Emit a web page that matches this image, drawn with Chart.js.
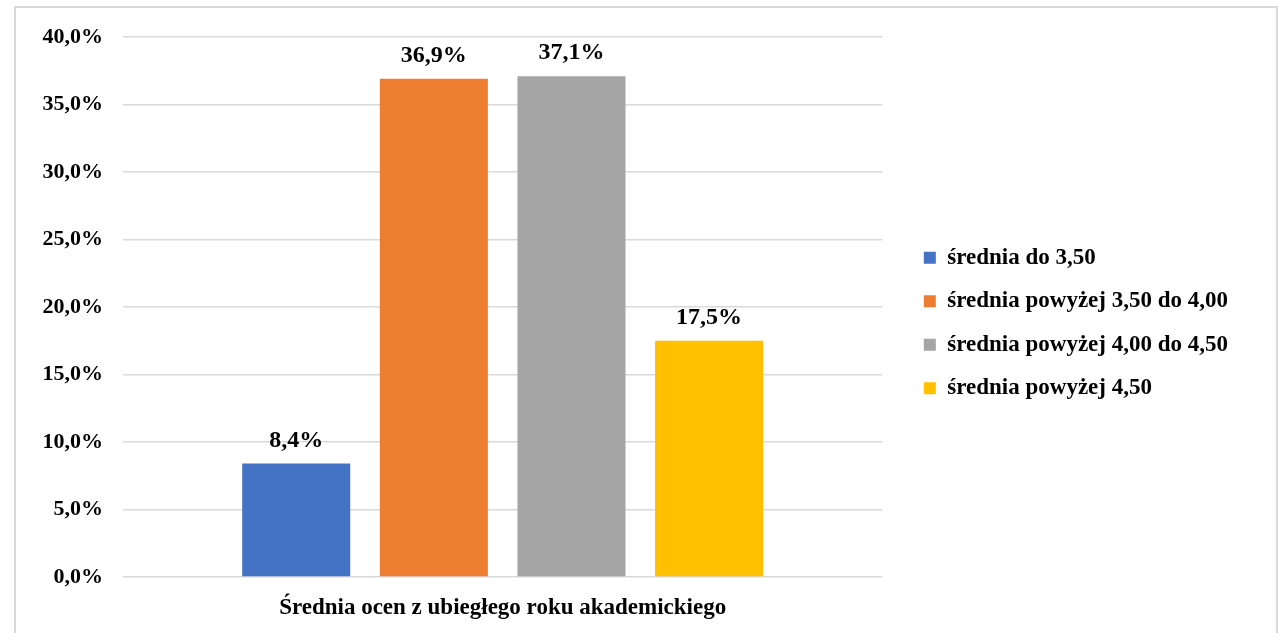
<!DOCTYPE html>
<html>
<head>
<meta charset="utf-8">
<script src="https://cdn.jsdelivr.net/npm/chart.js@4/dist/chart.umd.min.js"></script>
<style>
	body { margin: 0; background: #fff; }
	#wrap { position: relative; width: 1278px; height: 633px; overflow: hidden; }
	#frame { position: absolute; left: 14px; top: 6px; width: 1264px; height: 700px; box-sizing: border-box;
		border: 2px solid #d9d9d9; border-bottom: none; pointer-events: none; }
	#chart-area { position: absolute; left: 0; top: 0; }
</style>
</head>
<body>
<div id="wrap">
	<canvas id="chart-area" width="1278" height="633"></canvas>
	<div id="frame"></div>
</div>
<script>
	//data
	var categories = ["Średnia ocen z ubiegłego roku akademickiego"];
	var seriesNames = [
		"średnia do 3,50",
		"średnia powyżej 3,50 do 4,00",
		"średnia powyżej 4,00 do 4,50",
		"średnia powyżej 4,50"
	];
	var seriesValues = [8.4, 36.9, 37.1, 17.5];
	var seriesColors = ["#4472C4", "#ED7D31", "#A5A5A5", "#FFC000"];
	var yTicks = [0, 5, 10, 15, 20, 25, 30, 35, 40];

	var fontFamily = "'Liberation Serif', 'Times New Roman', serif";

	init();

function init () {
	barChart();
}

function pct (v) {
	return v.toFixed(1).replace('.', ',') + '%';
}

function barChart () {
	var datasets = [];
	for (var i = 0; i < seriesNames.length; i++) {
		datasets.push({
			label: seriesNames[i],
			data: [seriesValues[i]],
			backgroundColor: seriesColors[i],
			borderWidth: 0,
			categoryPercentage: 0.725,
			barPercentage: 0.785
		});
	}

	// value labels over the bars
	var valueLabels = {
		id: 'valueLabels',
		afterDatasetsDraw: function (chart) {
			var ctx = chart.ctx;
			ctx.save();
			ctx.font = "bold 24px " + fontFamily;
			ctx.fillStyle = "#000";
			ctx.textAlign = "center";
			ctx.textBaseline = "alphabetic";
			chart.data.datasets.forEach(function (ds, i) {
				var meta = chart.getDatasetMeta(i);
				meta.data.forEach(function (bar, j) {
					ctx.fillText(pct(ds.data[j]), bar.x, bar.y - 17);
				});
			});
			ctx.restore();
		}
	};

	var config = {
		type: 'bar',
		data: {
			labels: categories,
			datasets: datasets
		},
		options: {
			responsive: false,
			animation: false,
			layout: {
				padding: { left: 20, top: 37, right: 40, bottom: 24 }
			},
			scales: {
				x: {
					grid: { display: false, drawTicks: false },
					border: { display: false },
					ticks: {
						// mirror keeps the label from being clipped to the short axis box,
						// the negative padding pushes it back below the axis
						mirror: true,
						padding: -45,
						color: "#000",
						font: { family: fontFamily, size: 23, weight: 'bold' }
					},
					afterFit: function (scale) { scale.height = 32; }
				},
				y: {
					min: 0,
					max: 40,
					afterBuildTicks: function (scale) {
						scale.ticks = yTicks.map(function (v) { return { value: v }; });
					},
					grid: { color: "#d9d9d9", lineWidth: 1.5, drawTicks: false },
					border: { display: false },
					ticks: {
						padding: 20,
						color: "#000",
						font: { family: fontFamily, size: 22, weight: 'bold' },
						callback: function (v) { return pct(v); }
					},
					afterFit: function (scale) { scale.width = 103; }
				},
				gap: {
					position: 'right',
					display: true,
					grid: { display: false, drawTicks: false },
					border: { display: false },
					ticks: { display: false },
					afterFit: function (scale) { scale.width = 21; }
				}
			},
			plugins: {
				tooltip: { enabled: false },
				legend: {
					position: 'right',
					align: 'center',
					maxWidth: 400,
					labels: {
						boxWidth: 12,
						boxHeight: 12,
						padding: 20.5,
						color: "#000",
						font: { family: fontFamily, size: 23, weight: 'bold' }
					}
				}
			}
		},
		plugins: [valueLabels]
	};

	var ctx = document.getElementById("chart-area").getContext("2d");
	window.myBar = new Chart(ctx, config);
}
</script>
</body>
</html>
